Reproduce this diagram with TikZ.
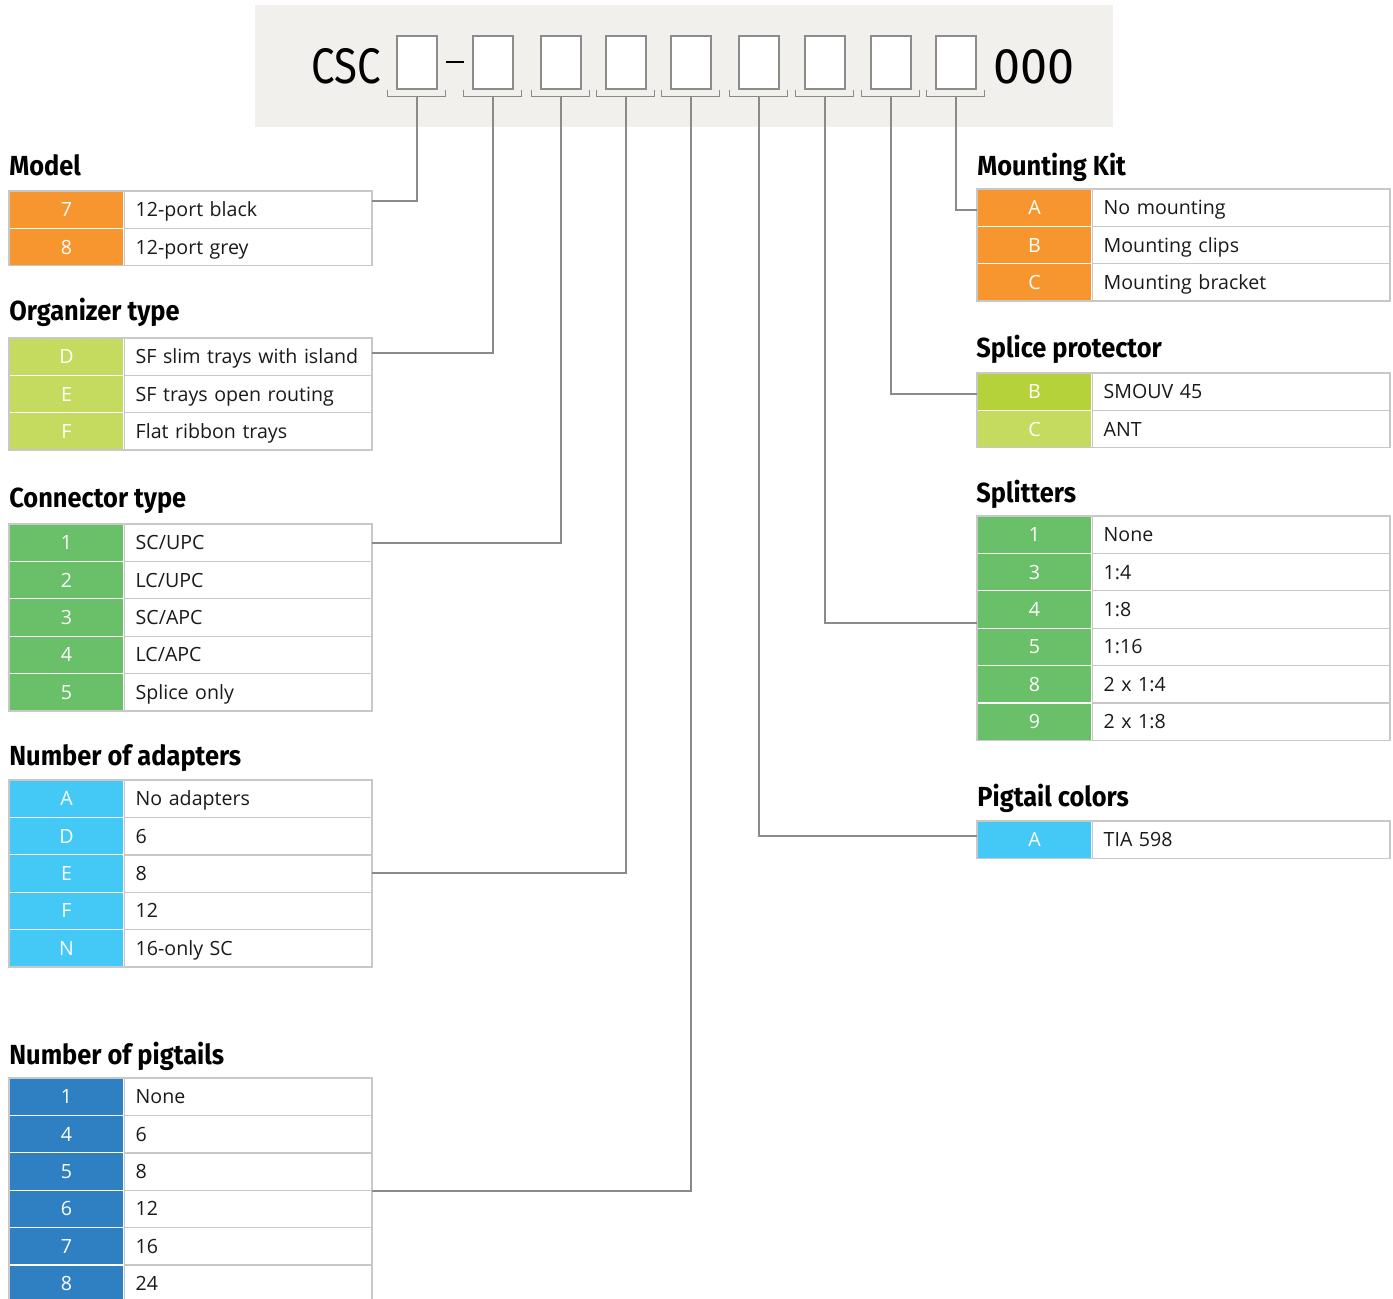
\documentclass[tikz,border=0pt]{standalone}
\usepackage{fontspec}
\setmainfont{Open Sans}
\newfontfamily\titlefont{Fira Sans}
\newfontfamily\hdrfont{Fira Sans}
\definecolor{hdrbg}{HTML}{F2F0ED}
\definecolor{boxgray}{HTML}{8C8C8C}
\definecolor{conngray}{HTML}{8A8A8A}
\definecolor{tblgray}{HTML}{C8C8C8}
\definecolor{corange}{HTML}{F7962F}
\definecolor{clime}{HTML}{C5DB5F}
\definecolor{climed}{HTML}{B6D23A}
\definecolor{cgreen}{HTML}{6ABF69}
\definecolor{ccyan}{HTML}{44C8F5}
\definecolor{cblue}{HTML}{2F7FC3}
\definecolor{txtcol}{HTML}{1A1A1A}
\newcommand\ttlx[1]{\scalebox{0.92}[1]{#1}}
\tikzset{
  codebox/.style={draw=boxgray, line width=0.8pt, fill=white, minimum width=20pt, minimum height=26.5pt, inner sep=0pt},
  conn/.style={draw=conngray, line width=0.6pt},
  codecell/.style={draw=white, line width=0.6pt, minimum width=57.5pt, minimum height=18.7pt, inner sep=0pt, text height=7pt, text depth=0pt, text=white, font=\fontsize{9.8}{12}\selectfont},
  textcell/.style={draw=tblgray, line width=0.7pt, fill=white, anchor=west, minimum height=18.7pt, inner ysep=0pt, inner xsep=5.5pt, text height=7pt, text depth=0pt, align=left, text=txtcol, font=\fontsize{9.8}{12}\selectfont},
  textL/.style={textcell, minimum width=124pt, text width=113pt},
  textR/.style={textcell, minimum width=149pt, text width=138pt},
  ttl/.style={anchor=base west, inner sep=0pt, font=\titlefont\bfseries\fontsize{13.8}{16}\selectfont, text=black},
  tblframe/.style={draw=tblgray, line width=0.7pt}
}
\begin{document}
\begin{tikzpicture}[x=0.5pt,y=-0.5pt]
\useasboundingbox (0,0) rectangle (1393,1299);
% header
\fill[hdrbg] (255,5) rectangle (1113,127);
\node[anchor=base east, inner sep=0pt, font=\hdrfont\fontsize{25}{28}\selectfont] (csc) at (381,84) {\scalebox{0.84}[1]{CSC}};
\node[anchor=base west, inner sep=0pt, font=\hdrfont\fontsize{25}{28}\selectfont] (zeros) at (993,84) {\scalebox{0.97}[1]{000}};
\draw[line width=1.1pt] (446,62) -- (464,62);
\foreach \xx [count=\kk] in {417,493,561,626,691,759,825,891,956}{
  \node[codebox] (b\kk) at (\xx,62.5) {};
  \draw[conn] ([xshift=-4.5pt]b\kk.south west) -- ++(0,7) -| ([xshift=4pt]b\kk.south east);
  \coordinate (k\kk) at ([yshift=-3.5pt]b\kk.south);
}
% titles
\node[ttl] (tmodel) at (9,176) {\ttlx{Model}};
\node[ttl] (torg) at (9,321) {\ttlx{Organizer type}};
\node[ttl] (tconn) at (9,508) {\ttlx{Connector type}};
\node[ttl] (tadap) at (9,765) {\ttlx{Number of adapters}};
\node[ttl] (tpig) at (9,1064) {\ttlx{Number of pigtails}};
\node[ttl] (tmount) at (977,176) {\ttlx{Mounting Kit}};
\node[ttl] (tsplice) at (976,358) {\ttlx{Splice protector}};
\node[ttl] (tsplit) at (976,503) {\ttlx{Splitters}};
\node[ttl] (tpigc) at (977,806) {\ttlx{Pigtail colors}};
% Model
\foreach \code/\desc [count=\rr] in {7/12-port black, 8/12-port grey}{
  \pgfmathsetmacro\yc{191+(\rr-0.5)*37.4}
  \node[codecell, fill=corange] (mc\rr) at (66.5,\yc) {\code};
  \node[textL] (mt\rr) at (124,\yc) {\desc};
}
\draw[tblframe] (9,191) rectangle (372,265.8);
% Organizer
\foreach \code/\desc [count=\rr] in {D/SF slim trays with island, E/SF trays open routing, F/Flat ribbon trays}{
  \pgfmathsetmacro\yc{338+(\rr-0.5)*37.4}
  \node[codecell, fill=clime] (oc\rr) at (66.5,\yc) {\code};
  \node[textL] (ot\rr) at (124,\yc) {\desc};
}
\draw[tblframe] (9,338) rectangle (372,450.2);
% Connector type
\foreach \code/\desc [count=\rr] in {1/SC\slash UPC, 2/LC\slash UPC, 3/SC\slash APC, 4/LC\slash APC, 5/Splice only}{
  \pgfmathsetmacro\yc{524+(\rr-0.5)*37.4}
  \node[codecell, fill=cgreen] (cc\rr) at (66.5,\yc) {\code};
  \node[textL] (ct\rr) at (124,\yc) {\desc};
}
\draw[tblframe] (9,524) rectangle (372,711);
% Adapters
\foreach \code/\desc [count=\rr] in {A/No adapters, D/6, E/8, F/12, N/16-only SC}{
  \pgfmathsetmacro\yc{780+(\rr-0.5)*37.4}
  \node[codecell, fill=ccyan] (ac\rr) at (66.5,\yc) {\code};
  \node[textL] (at\rr) at (124,\yc) {\desc};
}
\draw[tblframe] (9,780) rectangle (372,967);
% Pigtails
\foreach \code/\desc [count=\rr] in {1/None, 4/6, 5/8, 6/12, 7/16, 8/24}{
  \pgfmathsetmacro\yc{1078+(\rr-0.5)*37.4}
  \node[codecell, fill=cblue] (pc\rr) at (66.5,\yc) {\code};
  \node[textL] (pt\rr) at (124,\yc) {\desc};
}
\draw[tblframe] (9,1078) rectangle (372,1302.4);
% Mounting kit
\foreach \code/\desc [count=\rr] in {A/No mounting, B/Mounting clips, C/Mounting bracket}{
  \pgfmathsetmacro\yc{189+(\rr-0.5)*37.4}
  \node[codecell, fill=corange] (kc\rr) at (1034.5,\yc) {\code};
  \node[textR] (kt\rr) at (1092,\yc) {\desc};
}
\draw[tblframe] (977,189) rectangle (1390,301.2);
% Splice protector
\foreach \code/\desc/\colr [count=\rr] in {B/SMOUV 45/climed, C/ANT/clime}{
  \pgfmathsetmacro\yc{373+(\rr-0.5)*37.4}
  \node[codecell, fill=\colr] (sc\rr) at (1034.5,\yc) {\code};
  \node[textR] (st\rr) at (1092,\yc) {\desc};
}
\draw[tblframe] (977,373) rectangle (1390,447.8);
% Splitters
\foreach \code/\desc [count=\rr] in {1/None, 3/1:4, 4/1:8, 5/1:16, 8/2 x 1:4, 9/2 x 1:8}{
  \pgfmathsetmacro\yc{516+(\rr-0.5)*37.4}
  \node[codecell, fill=cgreen] (lc\rr) at (1034.5,\yc) {\code};
  \node[textR] (lt\rr) at (1092,\yc) {\desc};
}
\draw[tblframe] (977,516) rectangle (1390,740.4);
% Pigtail colors
\node[codecell, fill=ccyan] (gc1) at (1034.5,839.7) {A};
\node[textR] (gt1) at (1092,839.7) {TIA 598};
\draw[tblframe] (977,821) rectangle (1390,858.4);
% connector end points
\coordinate (e1) at (372,201);
\coordinate (e2) at (372,353);
\coordinate (e3) at (372,543);
\coordinate (e4) at (372,873);
\coordinate (e5) at (372,1191);
\coordinate (e6) at (977,836);
\coordinate (e7) at (977,623);
\coordinate (e8) at (977,394);
\coordinate (e9) at (977,210);
\foreach \kk in {1,...,9}{\draw[conn] (k\kk) |- (e\kk);}
\end{tikzpicture}
\end{document}
